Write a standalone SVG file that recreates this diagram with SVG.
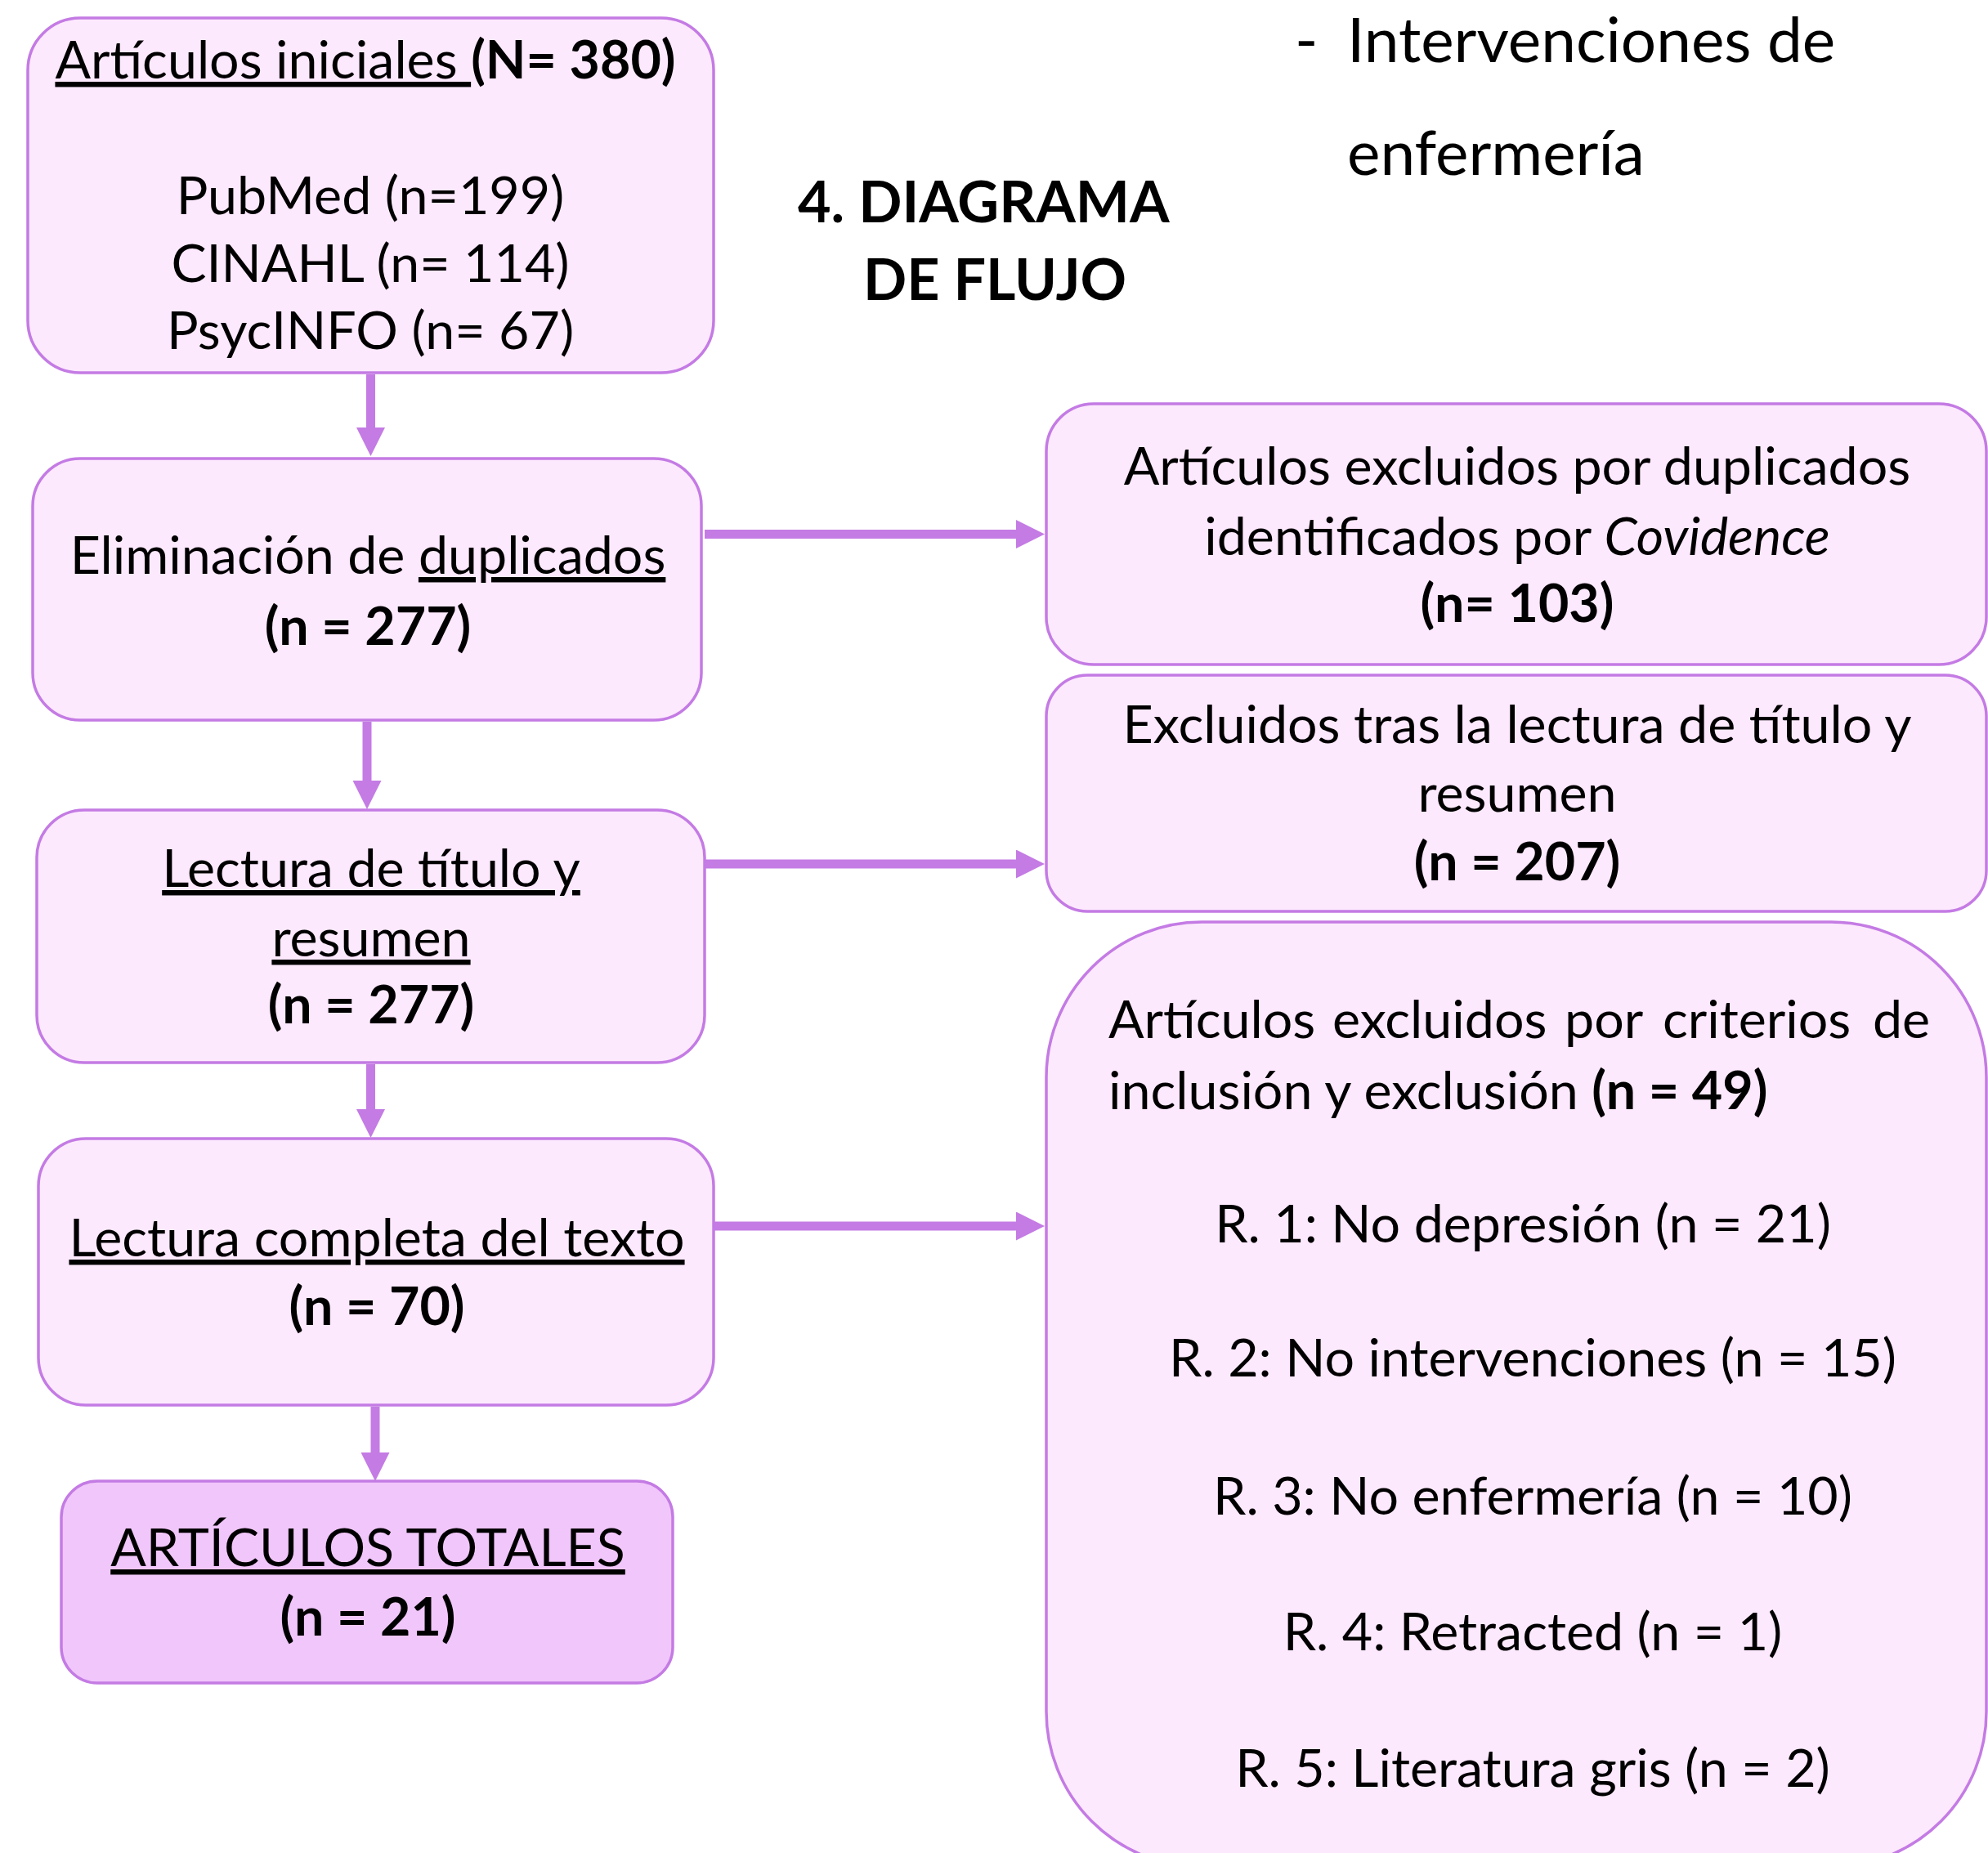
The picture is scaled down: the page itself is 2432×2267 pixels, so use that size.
<svg xmlns="http://www.w3.org/2000/svg" width="2432" height="2267" viewBox="0 0 2432 2267">
<style>
  .box { fill: #FDE9FD; stroke: #C47BE4; stroke-width: 3.5; }
  .box2 { fill: #F1C6FA; stroke: #C47BE4; stroke-width: 3.5; }
  .t { font-family: Lato, "Liberation Sans", sans-serif; font-size: 64.5px; fill: #000; text-anchor: middle; }
  .tl { font-family: Lato, "Liberation Sans", sans-serif; font-size: 64.5px; fill: #000; }
  .big { font-family: Lato, "Liberation Sans", sans-serif; font-size: 76.5px; fill: #000; }
  .bigb { font-family: Lato, "Liberation Sans", sans-serif; font-size: 70px; font-weight: bold; fill: #000; }
  .b { font-weight: bold; }
  .u { text-decoration: underline; }
  .i { font-style: italic; }
  .conn { stroke: #C47BE4; stroke-width: 11; fill: none; marker-end: url(#ah); }
</style>
<defs>
  <marker id="ah" markerUnits="userSpaceOnUse" viewBox="0 0 35 35" refX="5" refY="17.5" markerWidth="35" markerHeight="35" orient="auto">
    <polygon points="0,0 35,17.5 0,35" fill="#C47BE4"/>
  </marker>
</defs>
<rect width="2432" height="2267" fill="#FFFFFF"/>

<g id="heading">
  <text class="big" x="1584" y="76">-</text>
  <text class="big" x="1648" y="76">Intervenciones de</text>
  <text class="big" x="1648" y="214">enfermería</text>
  <text class="bigb" x="976" y="272">4. DIAGRAMA</text>
  <text class="bigb" x="1056" y="367">DE FLUJO</text>
</g>

<g id="connectors">
  <path class="conn" d="M453.5,458 V528"/>
  <path class="conn" d="M449,883 V960"/>
  <path class="conn" d="M453.5,1302 V1362"/>
  <path class="conn" d="M459,1721 V1782"/>
  <path class="conn" d="M862,653.5 H1248"/>
  <path class="conn" d="M862,1057 H1248"/>
  <path class="conn" d="M873,1500 H1248"/>
</g>

<g id="n1">
  <rect class="box" x="34" y="22" width="839" height="434" rx="64"/>
  <text class="t" x="447" y="96"><tspan class="u">Artículos iniciales </tspan><tspan class="b">(N= 380)</tspan></text>
  <text class="t" x="453" y="262">PubMed (n=199)</text>
  <text class="t" x="453" y="345">CINAHL (n= 114)</text>
  <text class="t" x="453" y="427">PsycINFO (n= 67)</text>
</g>

<g id="n2">
  <rect class="box" x="40" y="561" width="818" height="320" rx="58"/>
  <text class="t" x="450" y="702">Eliminación de <tspan class="u">duplicados</tspan></text>
  <text class="t b" x="450" y="789">(n = 277)</text>
</g>

<g id="n3">
  <rect class="box" x="45" y="991" width="817" height="309" rx="58"/>
  <text class="t u" x="454" y="1085">Lectura de título y</text>
  <text class="t u" x="454" y="1170">resumen</text>
  <text class="t b" x="454" y="1252">(n = 277)</text>
</g>

<g id="n4">
  <rect class="box" x="47" y="1393" width="826" height="326" rx="58"/>
  <text class="t u" x="461" y="1537">Lectura completa del texto</text>
  <text class="t b" x="461" y="1621">(n = 70)</text>
</g>

<g id="n5">
  <rect class="box2" x="75" y="1812" width="748" height="247" rx="44"/>
  <text class="t u" x="450" y="1916">ARTÍCULOS TOTALES</text>
  <text class="t b" x="450" y="2001">(n = 21)</text>
</g>

<g id="r1">
  <rect class="box" x="1280" y="494" width="1150" height="319" rx="58"/>
  <text class="t" x="1856" y="593">Artículos excluidos por duplicados</text>
  <text class="t" x="1856" y="679">identificados por <tspan class="i">Covidence</tspan></text>
  <text class="t b" x="1856" y="761">(n= 103)</text>
</g>

<g id="r2">
  <rect class="box" x="1280" y="826" width="1150" height="289" rx="50"/>
  <text class="t" x="1856" y="909">Excluidos tras la lectura de título y</text>
  <text class="t" x="1856" y="993">resumen</text>
  <text class="t b" x="1856" y="1077">(n = 207)</text>
</g>

<g id="r3">
  <rect class="box" x="1280" y="1128" width="1150" height="1156" rx="190"/>
  <text class="tl" y="1270"><tspan x="1356">Artículos</tspan> <tspan x="1630">excluidos</tspan> <tspan x="1914">por</tspan> <tspan x="2034">criterios</tspan> <tspan x="2291">de</tspan></text>
  <text class="tl" x="1356" y="1357">inclusión y exclusión <tspan class="b">(n = 49)</tspan></text>
  <text class="t" x="1863" y="1520">R. 1: No depresión (n = 21)</text>
  <text class="t" x="1875" y="1684">R. 2: No intervenciones (n = 15)</text>
  <text class="t" x="1875" y="1853">R. 3: No enfermería (n = 10)</text>
  <text class="t" x="1875" y="2019">R. 4: Retracted (n = 1)</text>
  <text class="t" x="1875" y="2186">R. 5: Literatura gris (n = 2)</text>
</g>
</svg>
